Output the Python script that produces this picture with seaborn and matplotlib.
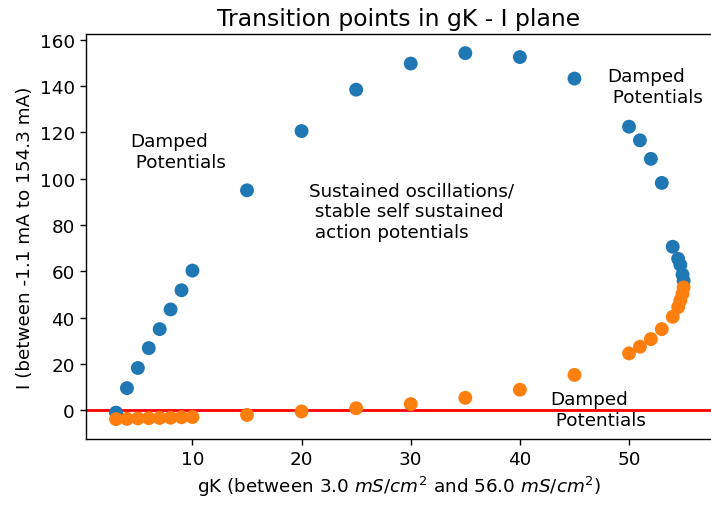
import matplotlib
matplotlib.use("Agg")
import matplotlib.pyplot as plt
import seaborn as sns
import pandas as pd

# Upper branch of transition points (gK in mS/cm^2, I in mA)
upper_gk = [3, 4, 5, 6, 7, 8, 9, 10, 15, 20, 25, 30, 35, 40, 45,
            50, 51, 52, 53, 54, 54.5, 54.7, 54.9, 55.0]
upper_i = [-1.1, 9.5, 18.2, 26.8, 35.0, 43.5, 51.8, 60.3, 95.0, 120.6,
           138.5, 149.8, 154.3, 152.6, 143.3, 122.5, 116.6, 108.6, 98.2,
           70.6, 65.4, 62.8, 58.6, 55.9]

# Lower branch of transition points
lower_gk = [3, 4, 5, 6, 7, 8, 9, 10, 15, 20, 25, 30, 35, 40, 45,
            50, 51, 52, 53, 54, 54.5, 54.7, 54.9, 55.0]
lower_i = [-3.9, -3.8, -3.6, -3.5, -3.4, -3.3, -3.1, -3.0, -2.1, -0.6,
           0.8, 2.6, 5.3, 8.8, 15.2, 24.5, 27.4, 30.7, 35.0, 40.3,
           44.5, 47.4, 50.3, 53.0]

# Region annotations: (text, gK, I)
labels = [
    ("Damped\n Potentials", 4.3, 105.0),
    ("Damped\n Potentials", 48.0, 133.3),
    ("Sustained oscillations/\n stable self sustained\n action potentials", 20.7, 74.7),
    ("Damped\n Potentials", 42.8, -6.5),
]

upper = pd.DataFrame({"gK": upper_gk, "I": upper_i})
lower = pd.DataFrame({"gK": lower_gk, "I": lower_i})

sns.set_style("ticks")
plt.rcParams["font.family"] = ["DejaVu Sans"]
plt.rcParams["axes.edgecolor"] = "black"
plt.rcParams["xtick.color"] = "black"
plt.rcParams["ytick.color"] = "black"
plt.rcParams["text.color"] = "black"
plt.rcParams["axes.labelcolor"] = "black"

W, H = 711, 506
fig = plt.figure(figsize=(W / 100, H / 100), dpi=100)
ax = fig.add_axes([86 / W, 1 - 440 / H, 626 / W, (440 - 34.7) / H])

sns.scatterplot(data=upper, x="gK", y="I", color="#1f77b4", s=100,
                edgecolor="none", ax=ax, zorder=3)
sns.scatterplot(data=lower, x="gK", y="I", color="#ff7f0e", s=100,
                edgecolor="none", ax=ax, zorder=3)

ax.axhline(0, color="red", linewidth=2, zorder=2)

for txt, x, y in labels:
    ax.text(x, y, txt, fontsize=13.2)

ax.set_xlim(0.25, 57.6)
ax.set_ylim(-12.5, 162.7)
ax.set_xticks([10, 20, 30, 40, 50])
ax.set_yticks([0, 20, 40, 60, 80, 100, 120, 140, 160])
ax.tick_params(labelsize=13.2, length=4.5, width=1.0)
for sp in ax.spines.values():
    sp.set_linewidth(1.0)

ax.set_xlabel(r"gK (between 3.0 $mS/cm^2$ and 56.0 $mS/cm^2$)", fontsize=13.2)
ax.set_ylabel("I (between -1.1 mA to 154.3 mA)", fontsize=13.2)
ax.set_title("Transition points in gK - I plane", fontsize=16.9)

fig.savefig("out.png", dpi=100)
